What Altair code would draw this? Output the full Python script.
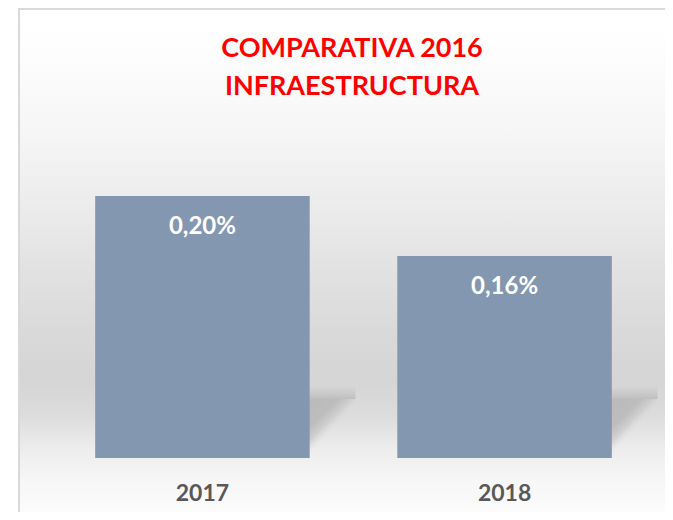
import altair as alt
import pandas as pd

categories = ["2017", "2018"]
values = [0.204, 0.1573]  # percent

title_lines = ["COMPARATIVA 2016", "INFRAESTRUCTURA"]

df = pd.DataFrame({"year": categories, "value": values})
df["label"] = [f"{v:.2f}%".replace(".", ",") for v in values]

W, H = 623, 334
x_scale = alt.Scale(paddingInner=0.29, paddingOuter=0.176)
y_scale = alt.Scale(domain=[0, 0.26], nice=False, zero=True)

x_enc = alt.X(
    "year:N", scale=x_scale, sort=categories, title=None,
    axis=alt.Axis(
        domain=False, ticks=False, tickSize=0, labelAngle=0, labelFont="Lato",
        labelFontSize=23, labelFontWeight="bold", labelColor="#595959",
        labelBaseline="alphabetic", labelPadding=42, zindex=1,
    ),
)

bg_grad = alt.LinearGradient(
    gradient="linear", x1=0, y1=0, x2=0, y2=1,
    stops=[
        alt.GradientStop(offset=0.0, color="#ffffff"),
        alt.GradientStop(offset=0.06, color="#fefefe"),
        alt.GradientStop(offset=0.24, color="#f6f6f6"),
        alt.GradientStop(offset=0.38, color="#ececec"),
        alt.GradientStop(offset=0.51, color="#e2e2e2"),
        alt.GradientStop(offset=0.64, color="#d9d9d9"),
        alt.GradientStop(offset=0.73, color="#d5d5d5"),
        alt.GradientStop(offset=0.80, color="#dcdcdc"),
        alt.GradientStop(offset=0.86, color="#ececec"),
        alt.GradientStop(offset=0.93, color="#f7f7f7"),
        alt.GradientStop(offset=1.0, color="#fcfcfc"),
    ],
)

background = alt.Chart(pd.DataFrame({"k": [0]})).mark_rect(
    fill=bg_grad, stroke="#d9d9d9", strokeWidth=2
).encode(
    x=alt.value(-23), x2=alt.value(W + 10),
    y=alt.value(-115), y2=alt.value(H + 60),
)

title = alt.Chart(pd.DataFrame({"k": [0]})).mark_text(
    font="Lato", fontSize=27, fontWeight="bold", color="#ff0000",
    align="center", baseline="alphabetic", lineBreak="\n", lineHeight=38,
).encode(
    x=alt.value(310), y=alt.value(-67),
    text=alt.value("\n".join(title_lines)),
)

shadow_grad = alt.LinearGradient(
    gradient="linear", x1=0, y1=0, x2=1, y2=1,
    stops=[
        alt.GradientStop(offset=0.0, color="#b9b9b9"),
        alt.GradientStop(offset=0.36, color="#bdbdbd"),
        alt.GradientStop(offset=0.47, color="#cfcfcf"),
        alt.GradientStop(offset=0.58, color="rgba(225,225,225,0)"),
        alt.GradientStop(offset=1.0, color="rgba(225,225,225,0)"),
    ],
)

fade_grad = alt.LinearGradient(
    gradient="linear", x1=0, y1=0, x2=0, y2=1,
    stops=[
        alt.GradientStop(offset=0.0, color="rgba(190,190,190,0)"),
        alt.GradientStop(offset=1.0, color="rgba(188,188,188,0.9)"),
    ],
)

base = alt.Chart(df)

shadow = base.mark_bar(size=60, xOffset=123, fill=shadow_grad).encode(
    x=x_enc,
    y=alt.YDatum(0.046, scale=y_scale, axis=None),
)

shadow_fade = base.mark_bar(size=46, xOffset=130, fill=fade_grad).encode(
    x=x_enc,
    y=alt.YDatum(0.056, scale=y_scale, axis=None),
    y2=alt.Y2Datum(0.046),
)

bars = base.mark_bar(color="#8497B0").encode(
    x=x_enc,
    y=alt.Y("value:Q", scale=y_scale, axis=None),
)

labels = base.mark_text(
    baseline="alphabetic", dy=38, font="Lato", fontSize=24, fontWeight="bold", color="#ffffff"
).encode(
    x=x_enc,
    y=alt.Y("value:Q", scale=y_scale, axis=None),
    text="label:N",
)

chart = alt.layer(background, shadow_fade, shadow, bars, labels, title).properties(
    width=W, height=H,
    autosize=alt.AutoSizeParams(type="none"),
    padding={"left": 34, "top": 116, "right": 0, "bottom": 54},
).configure_view(stroke=None).configure(background="#ffffff")

chart.save("out.html", embed_options={"renderer": "svg", "actions": False})
